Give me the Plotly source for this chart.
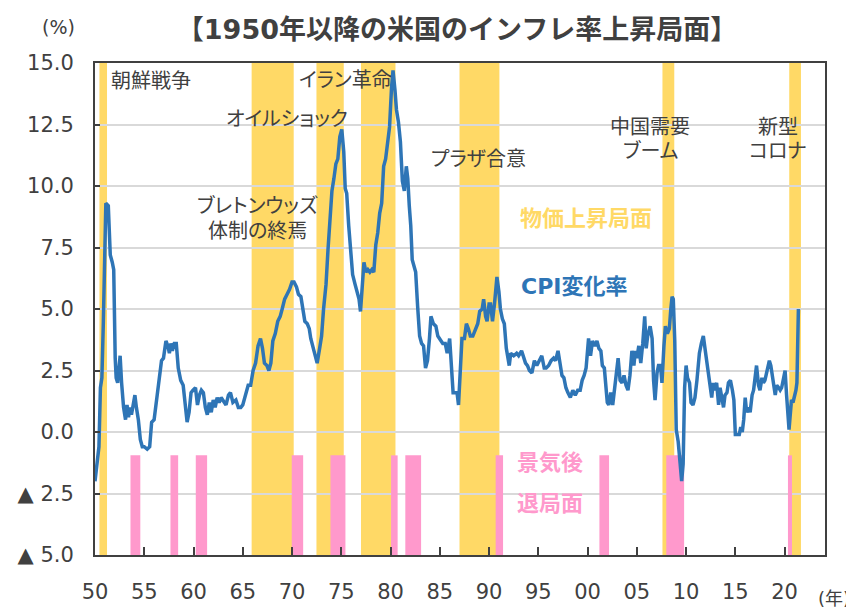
import plotly.graph_objects as go

# ---------------- data ----------------
cpi_year = [
    1950.0, 1950.2, 1950.4, 1950.55, 1950.7, 1950.85, 1951.0, 1951.1, 1951.35, 1951.55,
    1951.75, 1951.9, 1952.05, 1952.15, 1952.3, 1952.55, 1952.7, 1952.9, 1953.1, 1953.25,
    1953.4, 1953.55, 1953.7, 1953.85, 1954.05, 1954.2, 1954.4, 1954.6, 1954.8, 1955.0,
    1955.3, 1955.55, 1955.75, 1956.0, 1956.3, 1956.55, 1956.75, 1956.95, 1957.2, 1957.4,
    1957.55, 1957.7, 1957.85, 1958.05, 1958.25, 1958.45, 1958.7, 1958.95, 1959.15, 1959.35,
    1959.55, 1959.75, 1959.95, 1960.2, 1960.4, 1960.6, 1960.8, 1961.0, 1961.2, 1961.4,
    1961.6, 1961.8, 1962.0, 1962.2, 1962.4, 1962.6, 1962.8, 1963.0, 1963.3, 1963.55,
    1963.75, 1964.0, 1964.3, 1964.55, 1964.8, 1965.0, 1965.3, 1965.55, 1965.8, 1966.05,
    1966.3, 1966.55, 1966.8, 1967.0, 1967.2, 1967.45, 1967.65, 1967.85, 1968.05, 1968.3,
    1968.55, 1968.8, 1969.0, 1969.25, 1969.5, 1969.75, 1970.0, 1970.2, 1970.45, 1970.65,
    1970.9, 1971.1, 1971.3, 1971.55, 1971.75, 1971.9, 1972.1, 1972.35, 1972.55, 1972.8,
    1973.0, 1973.2, 1973.45, 1973.65, 1973.85, 1974.05, 1974.25, 1974.45, 1974.65, 1974.85,
    1975.05, 1975.25, 1975.4, 1975.55, 1975.75, 1975.95, 1976.15, 1976.4, 1976.6, 1976.8,
    1976.95, 1977.15, 1977.3, 1977.5, 1977.7, 1977.9, 1978.1, 1978.3, 1978.5, 1978.7,
    1978.9, 1979.1, 1979.3, 1979.5, 1979.7, 1979.9, 1980.1, 1980.25, 1980.45, 1980.6,
    1980.8, 1981.0, 1981.2, 1981.4, 1981.6, 1981.75, 1981.9, 1982.05, 1982.2, 1982.4,
    1982.55, 1982.75, 1982.95, 1983.15, 1983.35, 1983.55, 1983.75, 1983.95, 1984.1, 1984.35,
    1984.6, 1984.8, 1985.0, 1985.3, 1985.55, 1985.75, 1986.0, 1986.15, 1986.35, 1986.55,
    1986.75, 1986.9, 1987.1, 1987.25, 1987.5, 1987.7, 1987.9, 1988.1, 1988.35, 1988.6,
    1988.85, 1989.05, 1989.3, 1989.45, 1989.65, 1989.8, 1990.0, 1990.15, 1990.35, 1990.55,
    1990.8, 1991.0, 1991.15, 1991.35, 1991.55, 1991.75, 1991.9, 1992.05, 1992.2, 1992.5,
    1992.8, 1993.0, 1993.3, 1993.5, 1993.7, 1993.9, 1994.1, 1994.35, 1994.6, 1994.85,
    1995.1, 1995.35, 1995.6, 1995.8, 1996.05, 1996.3, 1996.55, 1996.75, 1997.0, 1997.2,
    1997.4, 1997.6, 1997.8, 1998.0, 1998.25, 1998.5, 1998.75, 1999.0, 1999.25, 1999.45,
    1999.65, 1999.85, 2000.1, 2000.3, 2000.5, 2000.75, 2000.95, 2001.15, 2001.35, 2001.5,
    2001.7, 2001.85, 2002.0, 2002.15, 2002.35, 2002.55, 2002.75, 2002.9, 2003.1, 2003.3,
    2003.5, 2003.7, 2003.9, 2004.1, 2004.3, 2004.5, 2004.7, 2004.85, 2005.0, 2005.2,
    2005.4, 2005.6, 2005.8, 2005.95, 2006.1, 2006.35, 2006.55, 2006.7, 2006.85, 2007.05,
    2007.2, 2007.4, 2007.55, 2007.75, 2007.9, 2008.1, 2008.3, 2008.45, 2008.58, 2008.7,
    2008.85, 2009.0, 2009.2, 2009.4, 2009.55, 2009.7, 2009.85, 2010.0, 2010.15, 2010.35,
    2010.5, 2010.7, 2010.9, 2011.1, 2011.35, 2011.55, 2011.75, 2011.95, 2012.15, 2012.3,
    2012.45, 2012.6, 2012.75, 2012.9, 2013.1, 2013.3, 2013.45, 2013.6, 2013.8, 2013.95,
    2014.15, 2014.3, 2014.5, 2014.7, 2014.85, 2015.0, 2015.2, 2015.4, 2015.55, 2015.7,
    2015.85, 2016.0, 2016.15, 2016.35, 2016.5, 2016.7, 2016.85, 2017.05, 2017.15, 2017.35,
    2017.5, 2017.7, 2017.85, 2018.0, 2018.2, 2018.45, 2018.6, 2018.75, 2018.9, 2019.05,
    2019.2, 2019.4, 2019.55, 2019.7, 2019.9, 2020.05, 2020.2, 2020.35, 2020.45, 2020.55,
    2020.7, 2020.85, 2021.0, 2021.15, 2021.25, 2021.32, 2021.4,
]
cpi_value = [
    -2.0, -1.3, -0.6, 1.8, 2.2, 4.5, 8.0, 9.3, 9.2, 7.2,
    6.9, 6.6, 3.0, 2.2, 2.0, 3.1, 2.0, 1.0, 0.5, 1.1,
    0.6, 1.0, 0.7, 1.0, 1.5, 1.0, 0.5, -0.3, -0.6, -0.6,
    -0.7, -0.6, 0.4, 0.5, 1.4, 2.3, 2.9, 3.0, 3.7, 3.5,
    3.2, 3.6, 3.3, 3.6, 3.6, 2.6, 2.1, 1.9, 1.2, 0.4,
    0.8, 1.6, 1.7, 1.8, 1.1, 1.5, 1.7, 1.6, 1.0, 0.7,
    1.2, 0.8, 1.3, 1.0, 1.4, 1.2, 1.4, 1.3, 1.1, 1.5,
    1.6, 1.2, 1.3, 1.0, 1.0, 1.1, 1.5, 1.9, 1.9, 2.5,
    2.8, 3.5, 3.8, 3.4, 2.8, 2.7, 2.5, 2.8, 3.7, 4.0,
    4.5, 4.7, 5.0, 5.4, 5.6, 5.8, 6.1, 6.1, 5.9, 5.6,
    5.5, 5.0, 4.5, 4.4, 4.2, 3.8, 3.5, 3.2, 2.8, 3.4,
    3.9, 5.0, 6.0, 7.4, 8.5, 9.8, 10.3, 10.9, 11.1, 12.0,
    12.3, 11.4, 9.9, 9.7, 8.4, 7.3, 6.4, 6.0, 5.7, 5.4,
    4.9, 6.4, 6.9, 6.5, 6.6, 6.5, 6.6, 6.5, 7.6, 8.1,
    8.9, 9.3, 10.8, 11.1, 11.7, 12.4, 14.0, 14.7, 13.9, 13.1,
    12.6, 11.8, 10.2, 9.8, 10.8, 10.3, 9.2, 8.4, 7.0, 6.7,
    6.5, 5.1, 3.9, 3.6, 3.5, 2.6, 2.9, 3.8, 4.7, 4.4,
    4.3, 3.9, 3.8, 3.6, 3.6, 3.2, 3.8, 2.6, 1.6, 1.6,
    1.6, 1.1, 2.4, 3.8, 3.8, 4.4, 4.2, 3.9, 3.9, 4.2,
    4.4, 4.9, 5.0, 5.4, 4.7, 4.5, 5.2, 5.2, 4.5, 5.2,
    6.3, 5.7, 5.0, 4.6, 4.4, 3.4, 3.0, 2.7, 3.2, 3.1,
    3.2, 3.1, 3.3, 3.0, 2.8, 2.7, 2.5, 2.4, 2.9, 2.7,
    2.9, 3.1, 2.6, 2.6, 2.7, 2.9, 3.0, 2.9, 3.3, 2.8,
    2.3, 2.2, 1.8, 1.6, 1.4, 1.7, 1.5, 1.7, 1.7, 2.1,
    2.3, 2.6, 3.8, 3.1, 3.7, 3.5, 3.7, 3.4, 3.3, 2.7,
    2.6, 1.9, 1.2, 1.1, 1.6, 1.1, 1.8, 2.2, 3.0, 2.1,
    2.0, 2.3, 1.9, 1.7, 2.3, 3.3, 2.7, 3.3, 3.0, 3.5,
    2.8, 3.6, 4.7, 3.4, 3.9, 4.3, 3.8, 2.1, 1.3, 2.4,
    2.7, 2.7, 2.0, 3.5, 4.3, 4.0, 4.2, 5.0, 5.5, 5.4,
    3.7, 0.1, -0.4, -1.3, -2.0, -1.3, 1.8, 2.7, 2.2, 2.0,
    1.2, 1.1, 1.4, 2.1, 3.2, 3.6, 3.9, 3.3, 2.7, 2.3,
    1.7, 1.4, 2.0, 1.7, 2.0, 1.1, 1.8, 1.5, 1.0, 1.5,
    1.6, 2.0, 2.1, 1.7, 1.3, -0.1, -0.1, -0.1, 0.2, 0.0,
    0.5, 1.4, 0.8, 1.0, 0.8, 1.5, 1.7, 2.5, 2.7, 1.9,
    1.7, 2.2, 2.0, 2.1, 2.4, 2.9, 2.7, 2.2, 1.9, 1.5,
    1.9, 1.8, 1.7, 1.8, 2.3, 2.5, 1.5, 0.3, 0.1, 0.6,
    1.3, 1.2, 1.4, 1.7, 2.0, 4.2, 5.0,
]

# inflation-rising phases (start, end)
rise_start = [1950.45, 1965.9, 1972.48, 1977.0, 1987.0, 2007.6, 2020.47]
rise_end = [1951.22, 1970.17, 1975.25, 1980.5, 1991.05, 2008.8, 2021.66]

# recessions (start, end)
rec_start = [1953.6, 1957.66, 1960.23, 1969.97, 1973.9, 1980.05, 1981.5, 1990.67, 2001.2, 2007.99, 2020.34]
rec_end = [1954.6, 1958.44, 1961.38, 1971.13, 1975.42, 1980.72, 1983.1, 1991.42, 2002.18, 2009.8, 2020.75]

x_tick_vals = [1950, 1955, 1960, 1965, 1970, 1975, 1980, 1985, 1990, 1995, 2000, 2005, 2010, 2015, 2020]
x_tick_text = ["50", "55", "60", "65", "70", "75", "80", "85", "90", "95", "00", "05", "10", "15", "20"]
y_tick_vals = [-5, -2.5, 0, 2.5, 5, 7.5, 10, 12.5, 15]
y_tick_text = ["▲ 5.0", "▲ 2.5", "0.0", "2.5", "5.0", "7.5", "10.0", "12.5", "15.0"]

# event labels
event_text = ["朝鮮戦争", "オイルショック", "イラン革命", "ブレトンウッズ", "体制の終焉",
              "プラザ合意", "中国需要", "ブーム", "新型", "コロナ"]
event_x = [1951.37, 1969.53, 1975.42, 1966.49, 1966.49, 1988.9, 2006.37, 2006.37, 2019.36, 2019.36]
event_y = [14.27, 12.72, 14.3, 9.19, 8.17, 11.1, 12.4, 11.42, 12.4, 11.42]
event_anchor = ["left", "center", "center", "center", "center", "center", "center", "center", "center", "center"]

# ---------------- styling ----------------
FONT = "DejaVu Sans, Noto Sans CJK JP, sans-serif"
YELLOW = "#FFD966"
PINK = "#FF99CC"
BLUE = "#2E75B6"
DARK = "#404040"

W, H = 854, 609
OFF = 8  # default page body margin in the browser
# target plot area in the screenshot: x 95..825, y 63..555
ML, MT = 95 - OFF, 63 - OFF
MR = W - (825 - OFF)
MB = H - (555 - OFF)
pw, ph = W - ML - MR, H - MT - MB

fig = go.Figure()
fig.add_trace(go.Scatter(
    x=cpi_year, y=cpi_value, mode="lines",
    line=dict(color=BLUE, width=3.5), hoverinfo="skip", showlegend=False,
))

shapes = []
for s, e in zip(rise_start, rise_end):
    shapes.append(dict(type="rect", xref="x", yref="paper", x0=s, x1=e, y0=0, y1=1,
                       fillcolor=YELLOW, line=dict(width=0), layer="between"))
for s, e in zip(rec_start, rec_end):
    shapes.append(dict(type="rect", xref="x", yref="y", x0=s, x1=e, y0=-5, y1=-0.95,
                       fillcolor=PINK, line=dict(width=0), layer="between"))

def kana(t):
    return "<span style=\"font-feature-settings:'palt'\">" + t + "</span>"

annotations = []
for t, x, y, a in zip(event_text, event_x, event_y, event_anchor):
    annotations.append(dict(text=kana(t), x=x, y=y, xref="x", yref="y", xanchor=a,
                            yanchor="middle", showarrow=False,
                            font=dict(family=FONT, size=20, color=DARK)))

def px2paper(px, py):
    # screenshot pixels -> paper fraction
    return (px - OFF - ML) / pw, 1 - (py - OFF - MT) / ph

pct_x, pct_y = px2paper(58, 27)
yr_x, yr_y = px2paper(834, 598)

annotations += [
    dict(text="<b>物価上昇局面</b>", x=1992.97, y=8.66, xref="x", yref="y", xanchor="left",
         yanchor="middle", showarrow=False, font=dict(family=FONT, size=22, color=YELLOW)),
    dict(text="<b>CPI変化率</b>", x=1993.07, y=5.93, xref="x", yref="y", xanchor="left",
         yanchor="middle", showarrow=False, font=dict(family=FONT, size=22, color=BLUE)),
    dict(text="<b>景気後</b>", x=1992.67, y=-1.22, xref="x", yref="y", xanchor="left",
         yanchor="middle", showarrow=False, font=dict(family=FONT, size=22, color=PINK)),
    dict(text="<b>退局面</b>", x=1992.67, y=-2.89, xref="x", yref="y", xanchor="left",
         yanchor="middle", showarrow=False, font=dict(family=FONT, size=22, color=PINK)),
    dict(text="(%)", x=pct_x, y=pct_y, xref="paper", yref="paper",
         xanchor="center", yanchor="middle", showarrow=False,
         font=dict(family=FONT, size=19, color=DARK)),
    dict(text="(年)", x=yr_x, y=yr_y, xref="paper", yref="paper",
         xanchor="center", yanchor="middle", showarrow=False,
         font=dict(family=FONT, size=18, color=DARK)),
]

fig.update_layout(
    width=W, height=H,
    margin=dict(l=ML, r=MR, t=MT, b=MB, autoexpand=False),
    paper_bgcolor="white", plot_bgcolor="white",
    shapes=shapes, annotations=annotations,
    title=dict(text="<b>【1950年以降の米国のインフレ率上昇局面】</b>",
               x=(457 - OFF) / W, xanchor="center", y=1 - (30 - OFF) / H, yanchor="middle",
               yref="container", xref="container",
               font=dict(family=FONT, size=27, color=DARK)),
    font=dict(family=FONT, color=DARK),
    showlegend=False,
)
fig.update_xaxes(
    range=[1950, 2024.1], tickmode="array", tickvals=x_tick_vals, ticktext=x_tick_text,
    ticks="inside", ticklen=8, tickwidth=1.5, tickcolor=DARK,
    showgrid=False, zeroline=False, automargin=False,
    showline=True, linecolor=DARK, linewidth=2, mirror=True,
    tickfont=dict(family=FONT, size=21, color=DARK), ticklabelstandoff=17,
)
fig.update_yaxes(
    range=[-5, 15], tickmode="array", tickvals=y_tick_vals, ticktext=y_tick_text,
    ticks="inside", ticklen=5, tickwidth=1.5, tickcolor=DARK,
    showgrid=True, gridcolor="#D9D9D9", gridwidth=1.8, zeroline=False, automargin=False,
    showline=True, linecolor=DARK, linewidth=2, mirror=True,
    tickfont=dict(family=FONT, size=21, color=DARK), ticklabelstandoff=15,
)

fig.write_html("out.html")
